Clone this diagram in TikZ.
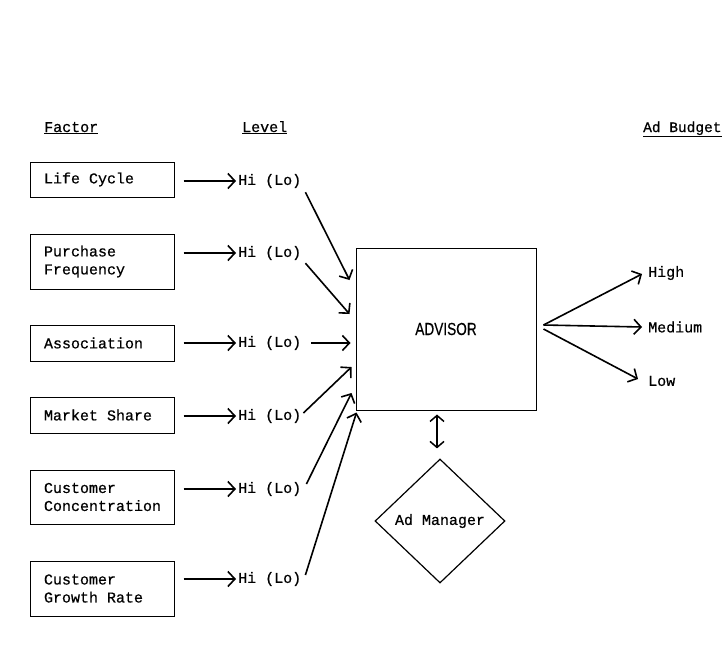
\documentclass[tikz,border=0pt]{standalone}
\usepackage{fontspec}
\setmonofont[WordSpace={1,0,0},FakeBold=0.6,Kerning=Off,Ligatures=NoCommon]{Liberation Mono}
\setsansfont[FakeBold=0.5]{Liberation Sans}
\usetikzlibrary{arrows.meta,calc,shapes.geometric}
\begin{document}
\begin{tikzpicture}[x=1pt,y=-1pt,
  font=\ttfamily\fontsize{15}{18}\selectfont,
  box/.style={draw,line width=1pt,text width=116pt,inner xsep=14pt,inner ysep=0pt,align=left,
    execute at begin node={\spaceskip=0.6em\relax\xspaceskip=0.6em\relax}},
  lvl/.style={anchor=west,inner sep=2pt},
  arr/.style={line width=1.6pt,-{Straight Barb[length=7pt,width=15pt,line width=1.6pt]}},
  hdr/.style={anchor=base west,inner sep=0pt}]
\useasboundingbox (0,0) rectangle (727,653);
% headers
\node[hdr] (fac) at (44,132) {\underline{Factor}};
\node[hdr] (lev) at (242,132) {\underline{Level}};
\node[hdr] (bud) at (643,132) {\fontsize{14.5}{18}\selectfont\underline{Ad Budget}};
% factor boxes
\node[box,minimum height=35pt] (b1) at (102,179.5) {Life Cycle};
\node[box,minimum height=55pt] (b2) at (102,261.5) {Purchase\\Frequency};
\node[box,minimum height=36pt] (b3) at (102,343) {Association};
\node[box,minimum height=36pt] (b4) at (102,415) {Market Share};
\node[box,minimum height=54pt] (b5) at (102,497) {Customer\\Concentration};
\node[box,minimum height=55pt] (b6) at (102,588.5) {Customer\\Growth Rate};
% levels
\node[lvl] (h1) at (236,181) {Hi (Lo)};
\node[lvl] (h2) at (236,253) {Hi (Lo)};
\node[lvl] (h3) at (236,343) {Hi (Lo)};
\node[lvl] (h4) at (236,416) {Hi (Lo)};
\node[lvl] (h5) at (236,489) {Hi (Lo)};
\node[lvl] (h6) at (236,579) {Hi (Lo)};
\foreach \i in {1,...,6}{
  \draw[arr] ([xshift=9pt]b\i.east |- h\i.west) -- (h\i.west);
}
% advisor
\node[draw,line width=1pt,minimum width=180pt,minimum height=162pt] (adv) at (446,329)
  {\sffamily\scalebox{0.78}[1]{\fontsize{17.5}{17.5}\selectfont ADVISOR}};
\coordinate (t1) at ($(adv.west)+(-6,-49)$);
\coordinate (t2) at ($(adv.west)+(-6,-15)$);
\coordinate (t3) at ($(adv.west)+(-5,14)$);
\coordinate (t4) at ($(adv.west)+(-4,38)$);
\coordinate (t5) at ($(adv.west)+(-4,64)$);
\coordinate (t6) at ($(adv.south west)+(1,2)$);
\draw[arr] ($(h1.south east)+(2,2)$) -- (t1);
\draw[arr] ($(h2.south east)+(2,1)$) -- (t2);
\draw[arr] ($(h3.east)+(8,0)$) -- (t3);
\draw[arr] ($(h4.east)+(0,-3)$) -- (t4);
\draw[arr] ($(h5.east)+(3,-5)$) -- (t5);
\draw[arr] ($(h6.east)+(2,-4)$) -- (t6);
% outputs
\node[lvl] (hi) at (646,273) {High};
\node[lvl] (me) at (646,327) {Medium};
\node[lvl] (lo) at (646,381) {Low};
\coordinate (o) at ($(adv.east)+(7,-4)$);
\draw[arr] (o) -- ($(hi.west)+(-4,1)$);
\draw[arr] (o) -- ($(me.west)+(-4,0)$);
\draw[arr] ($(o)+(0,4)$) -- ($(lo.west)+(-8,-2)$);
% ad manager
\node[draw,shape=diamond,line width=1.2pt,minimum width=130pt,minimum height=124pt,inner sep=0pt] (am) at (440,521) {Ad Manager};
\draw[line width=1.5pt,{Straight Barb[length=6pt,width=14pt,line width=1.5pt]}-{Straight Barb[length=6pt,width=14pt,line width=1.5pt]}]
  ($(adv.south)+(-9,4)$) -- ($(am.north)+(-3,-10)$);
\end{tikzpicture}
\end{document}
